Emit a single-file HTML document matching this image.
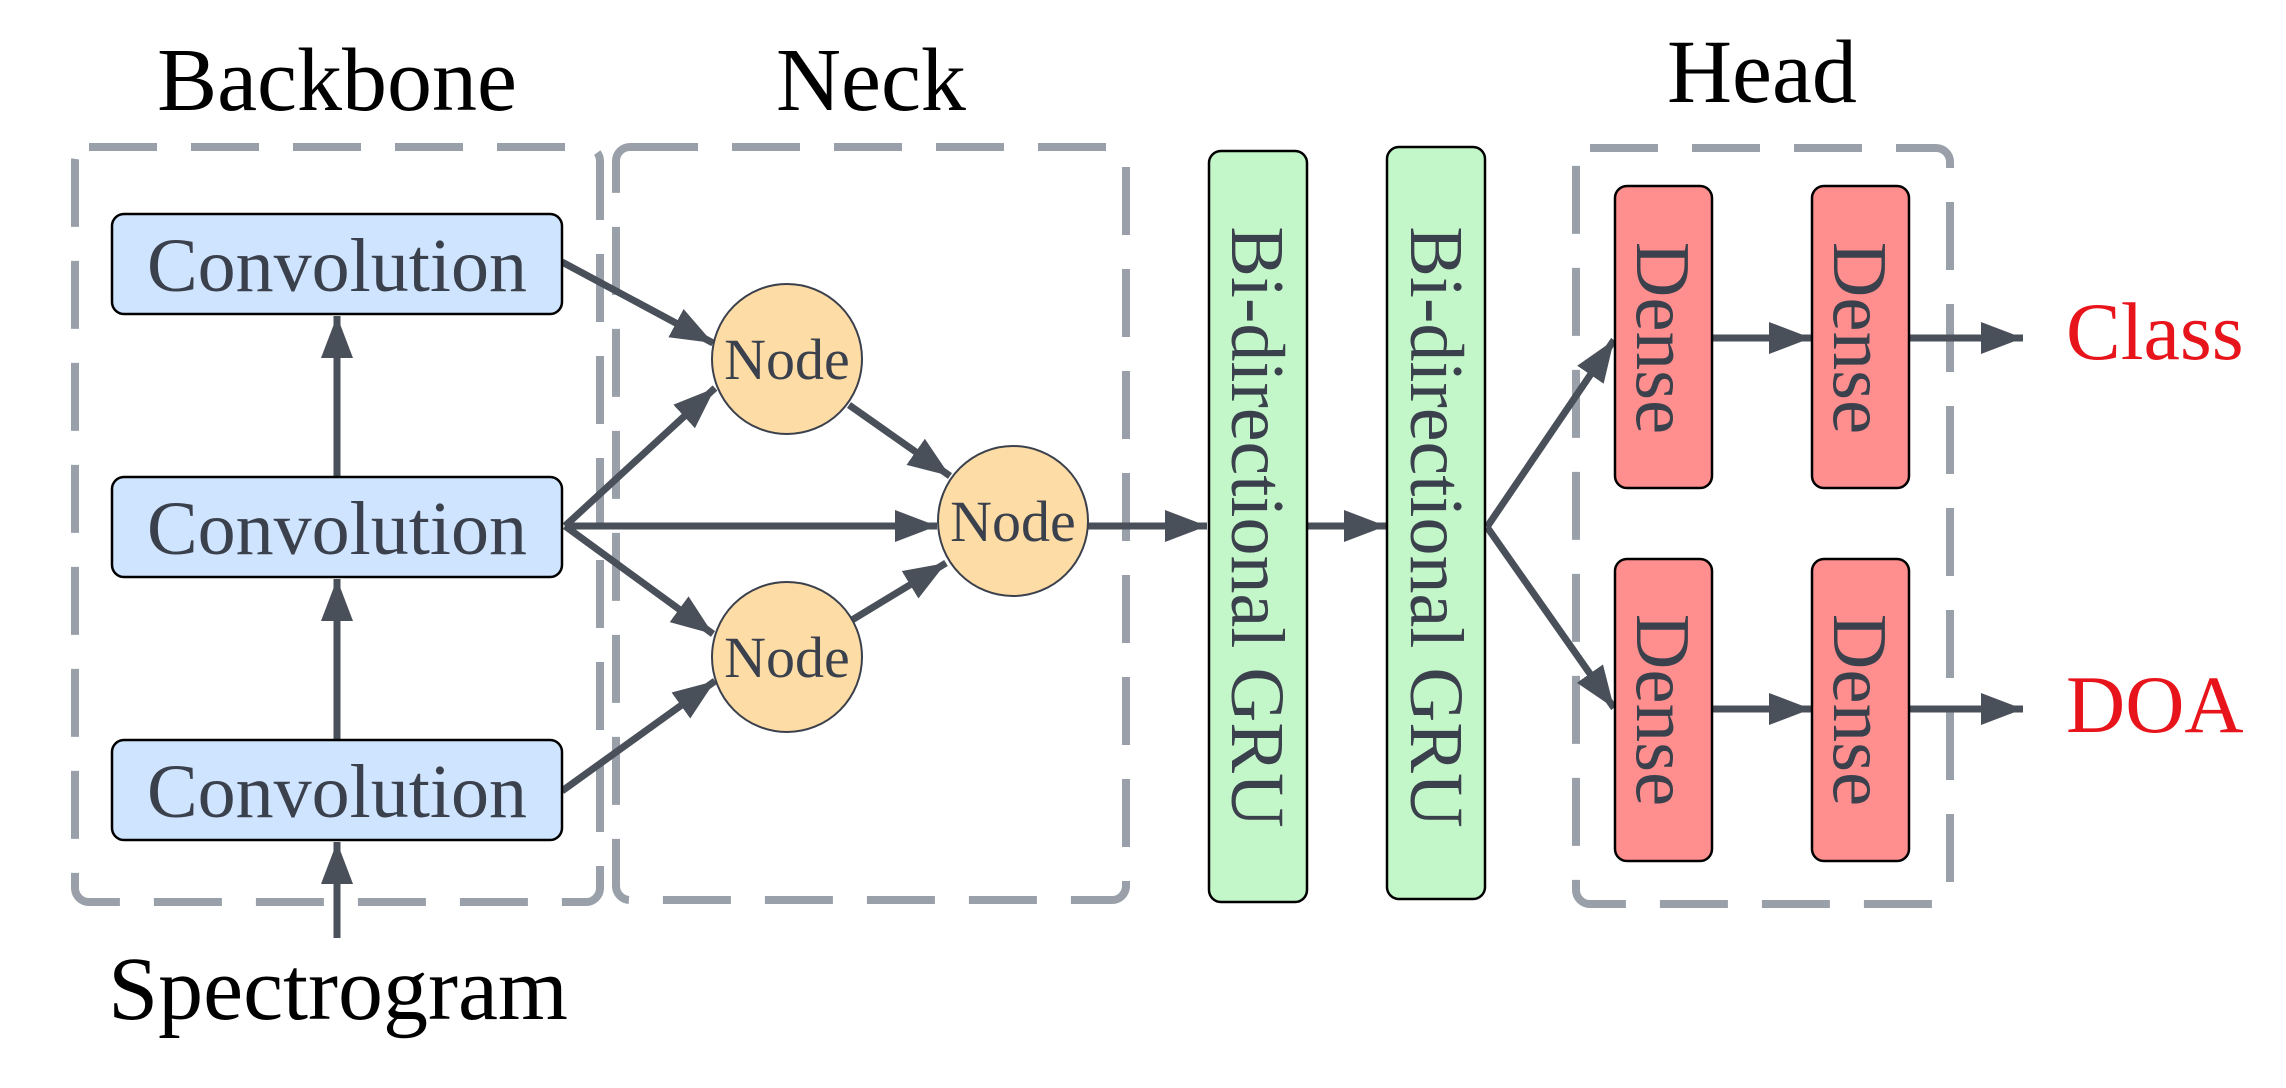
<!DOCTYPE html>
<html><head><meta charset="utf-8"><style>
html,body{margin:0;padding:0;background:#fff;}
svg{display:block;}
text{font-family:"Liberation Serif",serif;}
</style></head><body>
<svg width="2286" height="1088" viewBox="0 0 2286 1088" xmlns="http://www.w3.org/2000/svg">
<defs>
<marker id="ah" markerUnits="userSpaceOnUse" markerWidth="46" markerHeight="36" refX="42" refY="16" orient="auto">
<path d="M0,0 L42,16 L0,32 Z" fill="#4a505a"/>
</marker>
</defs>
<g fill="none" stroke="#9aa0a9" stroke-width="8" stroke-dasharray="68 34">
<rect x="75" y="147" width="525" height="755" rx="14"/>
<rect x="616" y="147" width="510" height="753" rx="14"/>
<rect x="1576" y="148" width="374" height="756" rx="14"/>
</g>
<g font-size="90" fill="#000" text-anchor="middle">
<text x="337" y="110">Backbone</text>
<text x="871" y="110">Neck</text>
<text x="1762" y="102">Head</text>
<text x="338" y="1019">Spectrogram</text>
</g>
<g stroke="#4a505a" stroke-width="7" fill="none" marker-end="url(#ah)">
<line x1="337" y1="938" x2="337" y2="842"/>
<line x1="337" y1="477" x2="337" y2="316"/>
<line x1="337" y1="740" x2="337" y2="579"/>
<line x1="562" y1="262" x2="713" y2="343"/>
<line x1="565" y1="526" x2="715" y2="388"/>
<line x1="565" y1="526" x2="937" y2="526"/>
<line x1="565" y1="526" x2="713" y2="634"/>
<line x1="562" y1="791" x2="715" y2="681"/>
<line x1="849" y1="405" x2="950" y2="476"/>
<line x1="852" y1="620" x2="946" y2="563"/>
<line x1="1088" y1="526" x2="1207" y2="526"/>
<line x1="1307" y1="526" x2="1386" y2="526"/>
<line x1="1487" y1="527" x2="1614" y2="340"/>
<line x1="1487" y1="527" x2="1614" y2="708"/>
<line x1="1713" y1="338" x2="1811" y2="338"/>
<line x1="1713" y1="709" x2="1811" y2="709"/>
<line x1="1910" y1="338" x2="2023" y2="338"/>
<line x1="1910" y1="709" x2="2023" y2="709"/>
</g>
<g fill="#cfe4ff" stroke="#000" stroke-width="2.5">
<rect x="112" y="214" width="450" height="100" rx="12"/>
<rect x="112" y="477" width="450" height="100" rx="12"/>
<rect x="112" y="740" width="450" height="100" rx="12"/>
</g>
<g font-size="76" fill="#3b414c" text-anchor="middle">
<text x="337" y="291">Convolution</text>
<text x="337" y="554">Convolution</text>
<text x="337" y="817">Convolution</text>
</g>
<g fill="#fddca6" stroke="#3b414c" stroke-width="2">
<circle cx="787" cy="359" r="75"/>
<circle cx="1013" cy="521" r="75"/>
<circle cx="787" cy="657" r="75"/>
</g>
<g font-size="58" fill="#3b414c" text-anchor="middle">
<text x="787" y="379">Node</text>
<text x="1013" y="541">Node</text>
<text x="787" y="677">Node</text>
</g>
<g fill="#c3f6c8" stroke="#000" stroke-width="2.5">
<rect x="1209" y="151" width="98" height="751" rx="12"/>
<rect x="1387" y="147" width="98" height="752" rx="12"/>
</g>
<g font-size="76" fill="#3b414c" text-anchor="middle">
<text transform="translate(1232,527) rotate(90)">Bi-directional GRU</text>
<text transform="translate(1411,527) rotate(90)">Bi-directional GRU</text>
</g>
<g fill="#ff8f8e" stroke="#000" stroke-width="2.5">
<rect x="1615" y="186" width="97" height="302" rx="12"/>
<rect x="1812" y="186" width="97" height="302" rx="12"/>
<rect x="1615" y="559" width="97" height="302" rx="12"/>
<rect x="1812" y="559" width="97" height="302" rx="12"/>
</g>
<g font-size="77" fill="#3b414c" text-anchor="middle">
<text transform="translate(1637,338) rotate(90)">Dense</text>
<text transform="translate(1834,338) rotate(90)">Dense</text>
<text transform="translate(1637,710) rotate(90)">Dense</text>
<text transform="translate(1834,710) rotate(90)">Dense</text>
</g>
<g font-size="82" fill="#e8141b">
<text x="2066" y="359">Class</text>
<text x="2066" y="732">DOA</text>
</g>
</svg>
</body></html>
